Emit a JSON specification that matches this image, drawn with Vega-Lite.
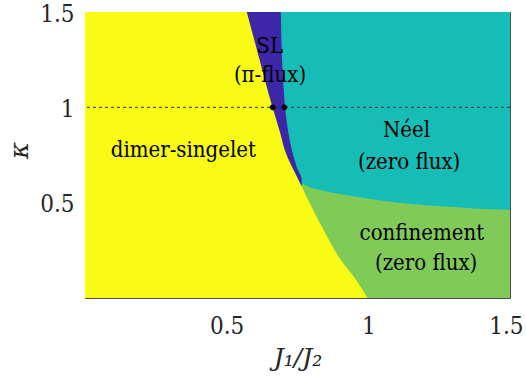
{
  "$schema": "https://vega.github.io/schema/vega-lite/v6.json",
  "width": 425,
  "height": 286,
  "autosize": {"type": "none"},
  "padding": {"left": 85, "top": 12, "right": 16, "bottom": 80},
  "config": {
    "view": {"stroke": "#4d4d4d", "strokeWidth": 1},
    "font": "DejaVu Serif"
  },
  "datasets": {
    "neel": [{"x": 0, "x2": 1.5, "y": 0, "y2": 1.5}],
    "confinement": [
      {"x": 0.765, "y": 0.601},
      {"x": 0.794, "y": 0.581},
      {"x": 0.841, "y": 0.563},
      {"x": 0.959, "y": 0.531},
      {"x": 1.076, "y": 0.505},
      {"x": 1.193, "y": 0.488},
      {"x": 1.312, "y": 0.476},
      {"x": 1.429, "y": 0.465},
      {"x": 1.5, "y": 0.462}
    ],
    "sl": [
      {"y": 0.59, "x": 0.765},
      {"y": 0.619, "x": 0.765},
      {"y": 0.689, "x": 0.747},
      {"y": 0.776, "x": 0.73},
      {"y": 0.865, "x": 0.718},
      {"y": 0.999, "x": 0.706},
      {"y": 1.5, "x": 0.691}
    ],
    "dimer": [
      {"y": 0.0, "x": 0.997},
      {"y": 0.094, "x": 0.957},
      {"y": 0.199, "x": 0.903},
      {"y": 0.357, "x": 0.842},
      {"y": 0.462, "x": 0.805},
      {"y": 0.603, "x": 0.759},
      {"y": 0.776, "x": 0.705},
      {"y": 0.865, "x": 0.689},
      {"y": 0.999, "x": 0.662},
      {"y": 1.301, "x": 0.607},
      {"y": 1.5, "x": 0.571}
    ],
    "line": [{"y": 1}],
    "dots": [{"x": 0.6625, "y": 1}, {"x": 0.7035, "y": 1}],
    "labels": [
      {"x": 0.347, "y": 0.738, "text": "dimer-singelet"},
      {"x": 0.652, "y": 1.283, "text": "SL"},
      {"x": 0.653, "y": 1.134, "text": "(π-flux)"},
      {"x": 1.135, "y": 0.843, "text": "Néel"},
      {"x": 1.144, "y": 0.679, "text": "(zero flux)"},
      {"x": 1.189, "y": 0.304, "text": "confinement"},
      {"x": 1.204, "y": 0.147, "text": "(zero flux)"}
    ]
  },
  "layer": [
    {
      "data": {"name": "neel"},
      "mark": {"type": "rect", "color": "#16BDB6"},
      "encoding": {
        "x": {
          "field": "x", "type": "quantitative",
          "scale": {"domain": [0, 1.5], "nice": false, "zero": false},
          "title": "J₁/J₂",
          "axis": {
            "values": [0.5, 1, 1.5], "format": "~g", "ticks": false, "tickSize": 0, "domain": false, "grid": false,
            "labelFont": "DejaVu Serif Condensed", "labelFontSize": 24, "labelColor": "#262626",
            "labelPadding": 35, "labelBaseline": "alphabetic", "labelFlush": true, "labelFlushOffset": 13,
            "titleFont": "DejaVu Serif", "titleFontSize": 25, "titleFontStyle": "italic",
            "titleFontWeight": "normal", "titleColor": "#262626",
            "titleY": 67, "titleBaseline": "alphabetic"
          }
        },
        "x2": {"field": "x2"},
        "y": {
          "field": "y", "type": "quantitative",
          "scale": {"domain": [0, 1.5], "nice": false, "zero": false},
          "title": "κ",
          "axis": {
            "values": [0.5, 1, 1.5], "format": "~g", "ticks": false, "tickSize": 0, "domain": false, "grid": false,
            "labelFont": "DejaVu Serif Condensed", "labelFontSize": 24, "labelColor": "#262626",
            "labelPadding": 11, "labelOffset": 2, "labelFlush": false,
            "titleFont": "DejaVu Serif", "titleFontSize": 26, "titleFontStyle": "italic",
            "titleFontWeight": "normal", "titleColor": "#262626",
            "titleX": -66, "titleY": 138, "titleBaseline": "middle", "titleAlign": "center"
          }
        },
        "y2": {"field": "y2"}
      }
    },
    {
      "data": {"name": "confinement"},
      "mark": {"type": "area", "color": "#80CB58", "orient": "vertical", "interpolate": "monotone"},
      "encoding": {
        "x": {"field": "x", "type": "quantitative"},
        "y": {"field": "y", "type": "quantitative", "stack": null}
      }
    },
    {
      "data": {"name": "sl"},
      "mark": {"type": "area", "color": "#3E26A8", "orient": "horizontal", "interpolate": "monotone"},
      "encoding": {
        "x": {"field": "x", "type": "quantitative", "stack": null},
        "y": {"field": "y", "type": "quantitative"}
      }
    },
    {
      "data": {"name": "dimer"},
      "mark": {"type": "area", "color": "#F9FB14", "orient": "horizontal", "interpolate": "monotone"},
      "encoding": {
        "x": {"field": "x", "type": "quantitative", "stack": null},
        "y": {"field": "y", "type": "quantitative"}
      }
    },
    {
      "data": {"name": "line"},
      "mark": {"type": "rule", "color": "#333333", "strokeWidth": 1, "strokeDash": [3, 3]},
      "encoding": {
        "y": {"field": "y", "type": "quantitative"}
      }
    },
    {
      "data": {"name": "dots"},
      "mark": {"type": "point", "filled": true, "color": "#000000", "size": 32, "opacity": 1},
      "encoding": {
        "x": {"field": "x", "type": "quantitative"},
        "y": {"field": "y", "type": "quantitative"}
      }
    },
    {
      "data": {"name": "labels"},
      "mark": {"type": "text", "font": "DejaVu Serif Condensed", "fontSize": 22, "color": "#000000", "align": "center", "baseline": "alphabetic"},
      "encoding": {
        "x": {"field": "x", "type": "quantitative"},
        "y": {"field": "y", "type": "quantitative"},
        "text": {"field": "text"}
      }
    }
  ]
}
